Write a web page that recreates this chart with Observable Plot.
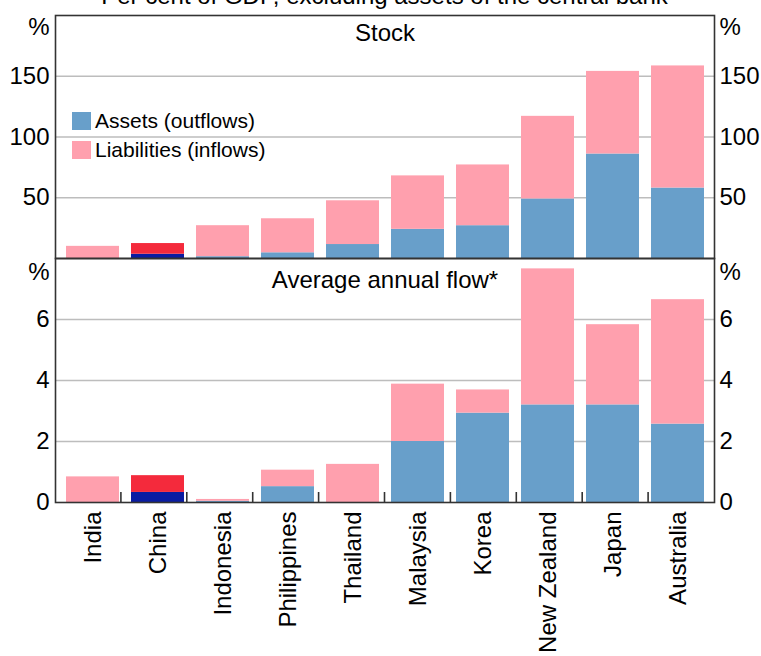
<!DOCTYPE html>
<html>
<head>
<meta charset="utf-8">
<script src="https://cdn.jsdelivr.net/npm/d3@7"></script>
<script src="https://cdn.jsdelivr.net/npm/@observablehq/plot@0.6"></script>
<style>
  body { margin: 0; background: white; }
  #wrap { position: relative; width: 761px; height: 656px; overflow: hidden; font-family: "Liberation Sans", Arial, sans-serif; background: white; }
  #title { position: absolute; left: 55px; width: 659px; top: -16px; text-align: center; font-size: 24px; line-height: 24px; color: black; white-space: nowrap; }
  .plot { position: absolute; left: 0; }
  #legend { position: absolute; left: 72px; top: 107px; font-size: 21px; line-height: 28.5px; color: black; }
  #legend .item { display: flex; align-items: center; height: 28.5px; }
  #legend .sw { width: 19px; height: 18px; margin-right: 4px; }
</style>
</head>
<body>
<div id="wrap">
  <div id="title">Per cent of GDP, excluding assets of the central bank</div>
</div>
<script>
// ---- Data ----
const categories = ["India", "China", "Indonesia", "Philippines", "Thailand", "Malaysia", "Korea", "New Zealand", "Japan", "Australia"];
// Stock, per cent of GDP
const stockAssets      = [0, 3.5, 1.5, 4.7, 11.5, 24, 27, 49, 86, 58];
const stockLiabilities = [10, 8.8, 25.5, 28, 36, 44, 50, 68, 68, 100.5];
// Average annual flow, per cent of GDP
const flowAssets      = [0, 0.33, 0.04, 0.52, 0, 2.0, 2.93, 3.2, 3.2, 2.57];
const flowLiabilities = [0.84, 0.55, 0.06, 0.54, 1.25, 1.88, 0.76, 4.46, 2.63, 4.08];
// Tick labels
const stockTicks = [50, 100, 150];
const flowTicks = [0, 2, 4, 6];
const seriesNames = ["Assets (outflows)", "Liabilities (inflows)"];
const panelTitles = ["Stock", "Average annual flow*"];
// Colours
const assetColor = "#689fca", liabColor = "#ffa0ae";
const chinaAssetColor = "#0a1ca2", chinaLiabColor = "#f42a3c";

function rows(assets, liabs) {
  const out = [];
  categories.forEach((c, i) => {
    out.push({country: c, series: seriesNames[0], value: assets[i], fill: c === "China" ? chinaAssetColor : assetColor});
    out.push({country: c, series: seriesNames[1], value: liabs[i], fill: c === "China" ? chinaLiabColor : liabColor});
  });
  return out;
}
const stockRows = rows(stockAssets, stockLiabilities);
const flowRows = rows(flowAssets, flowLiabilities);

const W = 761, ML = 55, MR = 47;
const font = {fontFamily: "'Liberation Sans', Arial, sans-serif", fontSize: "24px", color: "black", background: "transparent", overflow: "visible"};
const xOpts = {domain: categories, paddingInner: 0.185, paddingOuter: 0.0925, axis: null};
const axisLine = {stroke: "#333", strokeWidth: 1.6};

// Category-boundary tick marks on the bottom axis (bands are evenly spaced)
function boundaryTicks(index, scales, values, dims) {
  const x0 = dims.marginLeft, x1 = dims.width - dims.marginRight;
  const step = (x1 - x0) / categories.length;
  const yb = dims.height - dims.marginBottom;
  const g = d3.create("svg:g").attr("stroke", "#333").attr("stroke-width", 1.6);
  for (let i = 1; i < categories.length; i++) {
    const xb = x0 + i * step;
    g.append("line").attr("x1", xb).attr("x2", xb).attr("y1", yb - 10).attr("y2", yb);
  }
  return g.node();
}

function panel(data, ticks, yDomain, title, opts) {
  return Plot.plot({
    width: W, height: opts.height,
    marginLeft: ML, marginRight: MR, marginTop: opts.marginTop, marginBottom: opts.marginBottom,
    style: font,
    x: xOpts,
    y: {domain: yDomain, axis: null},
    color: {type: "identity"},
    marks: [
      Plot.gridY(ticks.filter(t => t !== 0), {stroke: "#bdbdbd", strokeOpacity: 1, strokeWidth: 1.3}),
      Plot.barY(data, {x: "country", y: "value", fill: "fill"}),
      Plot.axisY(ticks, {anchor: "left", tickSize: 0, tickPadding: 6, fontSize: 24, label: null}),
      Plot.axisY(ticks, {anchor: "right", tickSize: 0, tickPadding: 5, fontSize: 24, label: null}),
      Plot.text(["%"], {text: d => d, frameAnchor: "top-left", dx: -6, dy: opts.pctDy, textAnchor: "end", lineAnchor: "top", fontSize: 24}),
      Plot.text(["%"], {text: d => d, frameAnchor: "top-right", dx: 5, dy: opts.pctDy, textAnchor: "start", lineAnchor: "top", fontSize: 24}),
      Plot.text([title], {text: d => d, frameAnchor: "top", dy: opts.titleDy, lineAnchor: "top", fontSize: 24}),
      ...(opts.xAxis ? [
        Plot.axisX({anchor: "bottom", tickRotate: -90, tickSize: 0, tickPadding: 9, fontSize: 24, label: null}),
        boundaryTicks
      ] : []),
      Plot.frame(axisLine)
    ]
  });
}

const topPlot = panel(stockRows, stockTicks, [0, 200], panelTitles[0], {height: 258, marginTop: 15, marginBottom: 0, xAxis: false, pctDy: 2, titleDy: 8});
const botPlot = panel(flowRows, flowTicks, [0, 8], panelTitles[1], {height: 398, marginTop: 0, marginBottom: 154, xAxis: true, pctDy: 4, titleDy: 12});

const wrap = document.getElementById("wrap");
topPlot.classList.add("plot"); topPlot.style.top = "0px";
botPlot.classList.add("plot"); botPlot.style.top = "258px";
wrap.appendChild(topPlot);
wrap.appendChild(botPlot);

// Legend
const legend = document.createElement("div");
legend.id = "legend";
[[seriesNames[0], assetColor], [seriesNames[1], liabColor]].forEach(([name, col]) => {
  const item = document.createElement("div");
  item.className = "item";
  const sw = document.createElement("div");
  sw.className = "sw"; sw.style.background = col;
  const t = document.createElement("span"); t.textContent = name;
  item.appendChild(sw); item.appendChild(t);
  legend.appendChild(item);
});
wrap.appendChild(legend);
</script>
</body>
</html>
